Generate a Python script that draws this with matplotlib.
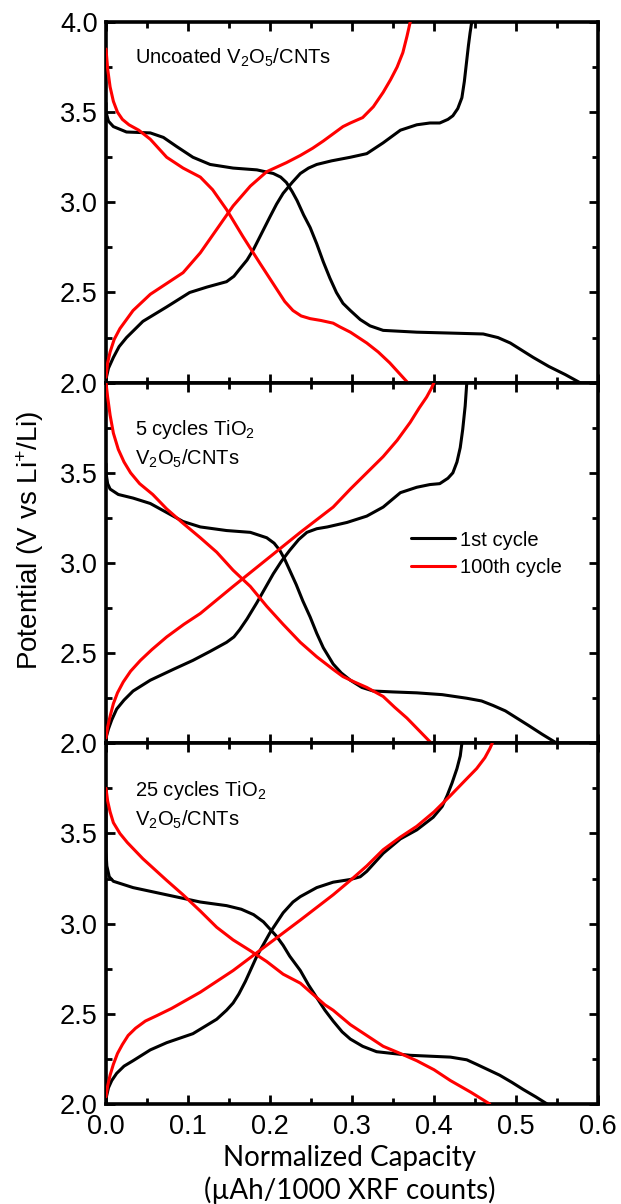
import matplotlib
matplotlib.use("Agg")
import matplotlib.pyplot as plt
from matplotlib.ticker import MultipleLocator, FixedLocator

plt.rcParams['font.family'] = ['Liberation Sans', 'DejaVu Sans']
plt.rcParams['mathtext.fontset'] = 'custom'
plt.rcParams['mathtext.rm'] = 'Liberation Sans'
plt.rcParams['mathtext.it'] = 'Liberation Sans:italic'
plt.rcParams['mathtext.bf'] = 'Liberation Sans:bold'

# ---------------- data (capacity, potential) ----------------
# Panel 1: Uncoated V2O5/CNTs
p1_dis1_x = [0.0, 0.0, 0.003, 0.009, 0.025, 0.054, 0.07, 0.086, 0.106, 0.127, 0.155, 0.184, 0.204, 0.213, 0.22, 0.227, 0.233, 0.241, 0.249, 0.257, 0.265, 0.273, 0.281, 0.289, 0.298, 0.31, 0.322, 0.338, 0.379, 0.42, 0.46, 0.478, 0.493, 0.507, 0.521, 0.54, 0.56, 0.578]
p1_dis1_y = [3.55, 3.50, 3.45, 3.42, 3.39, 3.385, 3.36, 3.31, 3.25, 3.21, 3.19, 3.18, 3.16, 3.14, 3.11, 3.06, 3.01, 2.93, 2.86, 2.77, 2.67, 2.58, 2.50, 2.44, 2.40, 2.35, 2.315, 2.29, 2.28, 2.275, 2.27, 2.25, 2.22, 2.18, 2.14, 2.09, 2.045, 2.00]
p1_chg1_x = [0.0, 0.003, 0.009, 0.016, 0.025, 0.045, 0.074, 0.102, 0.123, 0.147, 0.156, 0.163, 0.172, 0.18, 0.19, 0.2, 0.208, 0.216, 0.227, 0.237, 0.247, 0.257, 0.275, 0.298, 0.318, 0.338, 0.359, 0.379, 0.395, 0.407, 0.417, 0.423, 0.429, 0.434, 0.437, 0.44, 0.442, 0.444, 0.446]
p1_chg1_y = [2.02, 2.08, 2.14, 2.20, 2.25, 2.34, 2.42, 2.50, 2.53, 2.56, 2.59, 2.63, 2.68, 2.74, 2.83, 2.92, 2.99, 3.05, 3.11, 3.16, 3.19, 3.21, 3.23, 3.25, 3.27, 3.33, 3.40, 3.43, 3.44, 3.44, 3.46, 3.48, 3.52, 3.58, 3.67, 3.79, 3.87, 3.94, 4.00]
p1_dis100_x = [0.0, 0.002, 0.005, 0.009, 0.014, 0.02, 0.028, 0.04, 0.054, 0.074, 0.094, 0.115, 0.13, 0.147, 0.167, 0.188, 0.208, 0.218, 0.228, 0.238, 0.249, 0.262, 0.277, 0.285, 0.298, 0.318, 0.332, 0.346, 0.357, 0.368]
p1_dis100_y = [3.85, 3.74, 3.64, 3.56, 3.50, 3.46, 3.43, 3.40, 3.35, 3.25, 3.19, 3.14, 3.07, 2.96, 2.81, 2.66, 2.52, 2.45, 2.40, 2.37, 2.355, 2.345, 2.33, 2.31, 2.28, 2.22, 2.17, 2.11, 2.055, 2.00]
p1_chg100_x = [0.0, 0.002, 0.005, 0.01, 0.017, 0.025, 0.033, 0.054, 0.074, 0.094, 0.115, 0.135, 0.155, 0.176, 0.196, 0.22, 0.237, 0.252, 0.265, 0.277, 0.289, 0.298, 0.313, 0.326, 0.338, 0.347, 0.355, 0.362, 0.367, 0.371]
p1_chg100_y = [2.03, 2.11, 2.17, 2.24, 2.30, 2.35, 2.40, 2.49, 2.55, 2.61, 2.72, 2.85, 2.98, 3.09, 3.17, 3.22, 3.26, 3.30, 3.34, 3.38, 3.42, 3.44, 3.47, 3.53, 3.61, 3.68, 3.75, 3.83, 3.92, 4.00]

# Panel 2: 5 cycles TiO2
p2_dis1_x = [0.0, 0.0, 0.002, 0.005, 0.015, 0.033, 0.054, 0.074, 0.094, 0.115, 0.147, 0.176, 0.196, 0.205, 0.212, 0.218, 0.224, 0.232, 0.24, 0.249, 0.257, 0.265, 0.277, 0.287, 0.298, 0.312, 0.326, 0.35, 0.379, 0.41, 0.44, 0.458, 0.472, 0.487, 0.501, 0.515, 0.532, 0.55]
p2_dis1_y = [3.55, 3.50, 3.44, 3.41, 3.38, 3.36, 3.33, 3.28, 3.23, 3.20, 3.18, 3.17, 3.14, 3.11, 3.07, 3.02, 2.96, 2.88, 2.79, 2.70, 2.61, 2.53, 2.44, 2.39, 2.35, 2.31, 2.29, 2.285, 2.28, 2.27, 2.25, 2.235, 2.21, 2.18, 2.14, 2.10, 2.05, 2.00]
p2_chg1_x = [0.0, 0.003, 0.007, 0.013, 0.022, 0.033, 0.054, 0.082, 0.106, 0.127, 0.147, 0.156, 0.163, 0.172, 0.184, 0.194, 0.204, 0.214, 0.224, 0.235, 0.245, 0.257, 0.27, 0.294, 0.318, 0.338, 0.359, 0.379, 0.395, 0.407, 0.417, 0.423, 0.428, 0.432, 0.435, 0.438, 0.44]
p2_chg1_y = [2.03, 2.08, 2.13, 2.19, 2.24, 2.29, 2.35, 2.41, 2.46, 2.51, 2.56, 2.59, 2.63, 2.69, 2.78, 2.86, 2.94, 3.01, 3.07, 3.13, 3.17, 3.19, 3.20, 3.225, 3.26, 3.31, 3.39, 3.42, 3.435, 3.44, 3.47, 3.50, 3.56, 3.64, 3.74, 3.87, 4.00]
p2_dis100_x = [0.0, 0.002, 0.005, 0.009, 0.015, 0.022, 0.03, 0.041, 0.057, 0.074, 0.094, 0.115, 0.135, 0.155, 0.176, 0.196, 0.216, 0.237, 0.257, 0.277, 0.289, 0.303, 0.318, 0.338, 0.352, 0.367, 0.382, 0.397]
p2_dis100_y = [4.00, 3.92, 3.82, 3.72, 3.63, 3.56, 3.50, 3.44, 3.38, 3.30, 3.22, 3.14, 3.06, 2.96, 2.87, 2.76, 2.66, 2.56, 2.48, 2.41, 2.37, 2.34, 2.31, 2.26, 2.20, 2.14, 2.07, 2.00]
p2_chg100_x = [0.0, 0.002, 0.005, 0.009, 0.014, 0.021, 0.03, 0.042, 0.056, 0.074, 0.095, 0.115, 0.155, 0.196, 0.237, 0.257, 0.277, 0.298, 0.318, 0.338, 0.355, 0.371, 0.382, 0.391, 0.397, 0.40]
p2_chg100_y = [2.03, 2.09, 2.15, 2.22, 2.28, 2.34, 2.40, 2.46, 2.52, 2.59, 2.66, 2.72, 2.87, 3.02, 3.17, 3.24, 3.31, 3.41, 3.50, 3.59, 3.68, 3.78, 3.86, 3.92, 3.97, 4.00]

# Panel 3: 25 cycles TiO2
p3_dis1_x = [0.0, 0.0, 0.001, 0.004, 0.009, 0.033, 0.074, 0.115, 0.147, 0.165, 0.18, 0.192, 0.2, 0.208, 0.216, 0.224, 0.237, 0.247, 0.257, 0.267, 0.277, 0.288, 0.298, 0.313, 0.33, 0.35, 0.371, 0.42, 0.44, 0.452, 0.466, 0.48, 0.495, 0.509, 0.524, 0.538]
p3_dis1_y = [3.75, 3.40, 3.32, 3.26, 3.235, 3.20, 3.16, 3.12, 3.10, 3.08, 3.05, 3.01, 2.97, 2.93, 2.88, 2.82, 2.74, 2.66, 2.59, 2.52, 2.46, 2.40, 2.36, 2.32, 2.29, 2.28, 2.27, 2.26, 2.245, 2.22, 2.19, 2.16, 2.12, 2.08, 2.04, 2.00]
p3_chg1_x = [0.0, 0.003, 0.007, 0.013, 0.022, 0.033, 0.054, 0.074, 0.106, 0.135, 0.147, 0.155, 0.162, 0.17, 0.184, 0.2, 0.216, 0.228, 0.237, 0.257, 0.277, 0.298, 0.31, 0.318, 0.328, 0.338, 0.359, 0.379, 0.399, 0.41, 0.416, 0.422, 0.428, 0.432, 0.434]
p3_chg1_y = [2.03, 2.09, 2.13, 2.17, 2.21, 2.24, 2.30, 2.34, 2.39, 2.47, 2.52, 2.56, 2.61, 2.68, 2.82, 2.95, 3.06, 3.12, 3.15, 3.20, 3.23, 3.245, 3.26, 3.29, 3.34, 3.39, 3.47, 3.52, 3.59, 3.65, 3.71, 3.78, 3.86, 3.93, 4.00]
p3_dis100_x = [0.0, 0.002, 0.005, 0.009, 0.017, 0.026, 0.045, 0.074, 0.094, 0.115, 0.135, 0.155, 0.176, 0.196, 0.216, 0.237, 0.257, 0.267, 0.277, 0.298, 0.318, 0.338, 0.359, 0.379, 0.40, 0.42, 0.445, 0.468]
p3_dis100_y = [3.75, 3.68, 3.62, 3.56, 3.50, 3.45, 3.36, 3.24, 3.16, 3.07, 2.98, 2.91, 2.85, 2.79, 2.72, 2.67, 2.59, 2.55, 2.52, 2.44, 2.38, 2.32, 2.28, 2.24, 2.19, 2.13, 2.065, 2.00]
p3_chg100_x = [0.0, 0.002, 0.005, 0.009, 0.014, 0.02, 0.027, 0.036, 0.048, 0.062, 0.08, 0.115, 0.155, 0.196, 0.237, 0.277, 0.298, 0.318, 0.338, 0.359, 0.379, 0.40, 0.42, 0.437, 0.452, 0.462, 0.468, 0.471]
p3_chg100_y = [2.04, 2.10, 2.16, 2.22, 2.28, 2.33, 2.38, 2.42, 2.46, 2.49, 2.53, 2.62, 2.74, 2.88, 3.02, 3.16, 3.24, 3.32, 3.41, 3.48, 3.54, 3.62, 3.71, 3.79, 3.86, 3.92, 3.97, 4.00]

panel_labels = [r'Uncoated V$_2$O$_5$/CNTs',
                '5 cycles TiO$_2$\nV$_2$O$_5$/CNTs',
                '25 cycles TiO$_2$\nV$_2$O$_5$/CNTs']
legend_labels = ['1st cycle', '100th cycle']
x_ticks = [0.0, 0.1, 0.2, 0.3, 0.4, 0.5, 0.6]
y_ticks = [2.0, 2.5, 3.0, 3.5, 4.0]

panels = [
    [(p1_dis1_x, p1_dis1_y), (p1_chg1_x, p1_chg1_y), (p1_dis100_x, p1_dis100_y), (p1_chg100_x, p1_chg100_y)],
    [(p2_dis1_x, p2_dis1_y), (p2_chg1_x, p2_chg1_y), (p2_dis100_x, p2_dis100_y), (p2_chg100_x, p2_chg100_y)],
    [(p3_dis1_x, p3_dis1_y), (p3_chg1_x, p3_chg1_y), (p3_dis100_x, p3_dis100_y), (p3_chg100_x, p3_chg100_y)],
]

fig = plt.figure(figsize=(6.21, 12.04), dpi=100)
gs = fig.add_gridspec(3, 1, left=106/621, right=598/621, top=1-22/1204, bottom=1-1104/1204, hspace=0)
axes = [fig.add_subplot(gs[i]) for i in range(3)]

colors = ['black', 'black', '#ff0000', '#ff0000']
for i, ax in enumerate(axes):
    handles = []
    for j, (xs, ys) in enumerate(panels[i]):
        ln, = ax.plot(xs, ys, color=colors[j], lw=2.2, solid_joinstyle='round', solid_capstyle='round', zorder=3)
        handles.append(ln)
    ax.set_xlim(0, 0.6)
    ax.set_ylim(2.0, 4.0)
    ax.xaxis.set_major_locator(FixedLocator(x_ticks))
    ax.xaxis.set_minor_locator(MultipleLocator(0.05))
    ax.yaxis.set_major_locator(FixedLocator(y_ticks))
    ax.yaxis.set_minor_locator(MultipleLocator(0.25))
    ax.tick_params(which='both', direction='in', top=True, right=True, width=2.0)
    ax.tick_params(which='major', length=6.5, labelsize=19.5)
    ax.tick_params(axis='x', which='major', pad=7)
    ax.tick_params(axis='y', which='major', pad=6)
    ax.tick_params(which='minor', length=4)
    for s in ax.spines.values():
        s.set_linewidth(2.6)
    if i > 0:
        ax.set_yticklabels(['2.0', '2.5', '3.0', '3.5', ''])
    else:
        ax.set_yticklabels(['2.0', '2.5', '3.0', '3.5', '4.0'])
    if i < 2:
        ax.tick_params(axis='x', labelbottom=False)
    ax.text(0.059, 0.90 if i == 0 else 0.83, panel_labels[i], transform=ax.transAxes,
            fontsize=14.5, va='center', ha='left', linespacing=1.4)
    if i == 1:
        ax.legend([handles[0], handles[2]], legend_labels, loc='upper left',
                  bbox_to_anchor=(0.62, 0.59), frameon=False, fontsize=14.5,
                  handlelength=2.2, handletextpad=0.25, labelspacing=0.4,
                  borderpad=0, borderaxespad=0)

fig.text(30/621, 1-540/1204, r'Potential (V vs Li$^{+}$/Li)', rotation=90,
         fontsize=20, ha='center', va='center')
fig.text(350/621, 1-1158/1204, 'Normalized Capacity', fontsize=20,
         ha='center', va='center', family=['Lato', 'DejaVu Sans'])
fig.text(350/621, 1-1190/1204, '(\u00b5Ah/1000 XRF counts)', fontsize=20,
         ha='center', va='center', family=['Lato', 'DejaVu Sans'])

fig.savefig('out.png', dpi=100)
